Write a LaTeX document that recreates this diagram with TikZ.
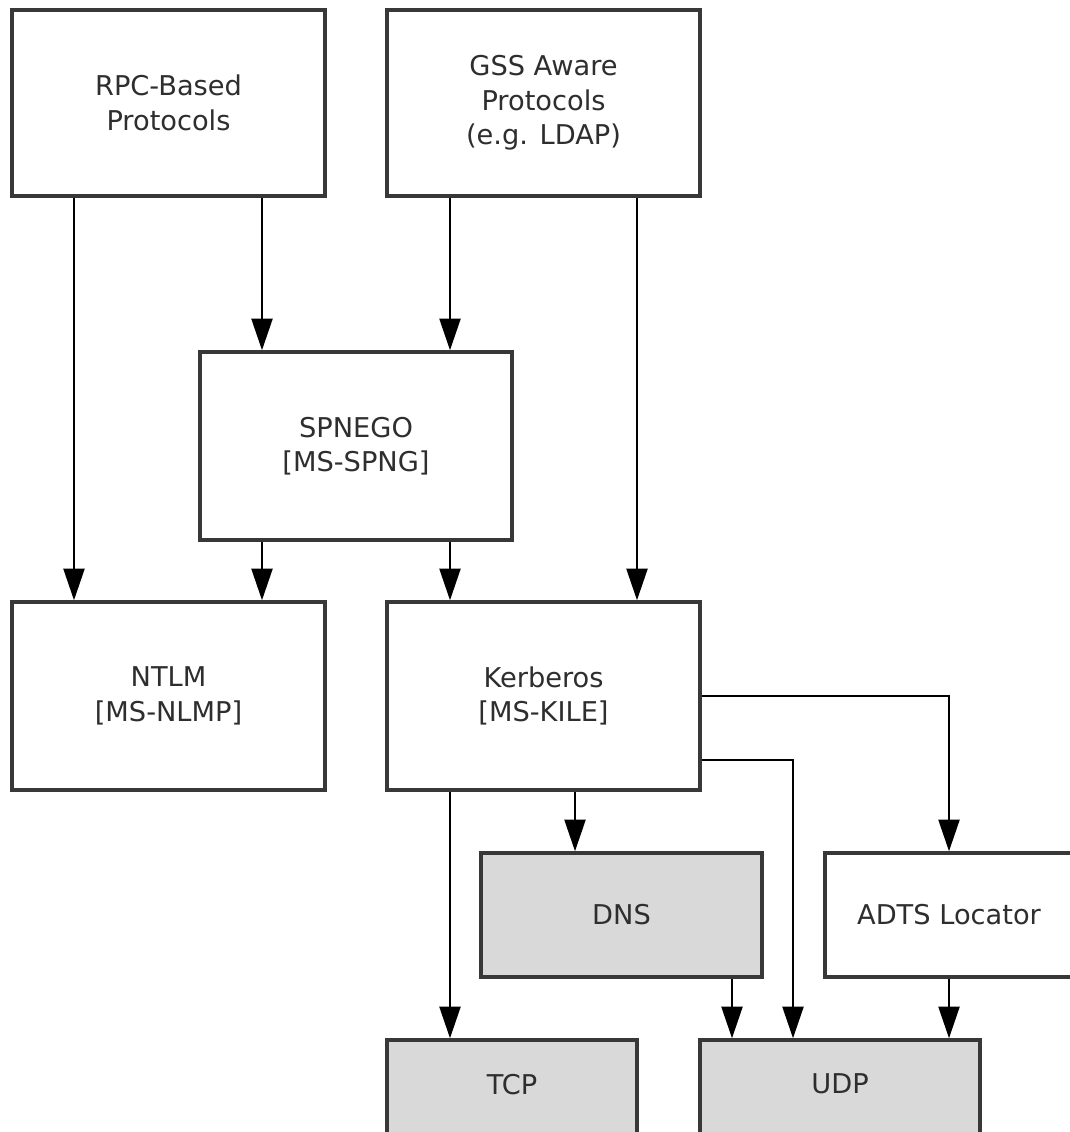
\documentclass[tikz,border=0pt]{standalone}
\usepackage{fontspec}
\setmainfont{DejaVu Sans}
\usetikzlibrary{arrows.meta}
\definecolor{boxLine}{HTML}{383838}
\definecolor{boxText}{HTML}{2E2E2E}
\definecolor{netFill}{HTML}{D9D9D9}

\begin{document}
\begin{tikzpicture}[
  >={Triangle[length=18pt, width=12pt]},
  block/.style={draw=boxLine, fill=white, line width=2pt, text=boxText,
    align=center, inner sep=0pt, font=\fontsize{15.5}{19.6}\selectfont},
  netblock/.style={block, fill=netFill},
  flow/.style={->, line width=1.1pt}
]

\useasboundingbox (0,0) rectangle (21.38,-22.64);

% =========================================================
% PROTOCOL LAYER
% =========================================================

\node[block, minimum width=6.26cm, minimum height=3.72cm]
  (rpc) at (3.37,-2.06) {RPC-Based\\Protocols};

\node[block, minimum width=6.26cm, minimum height=3.72cm]
  (gss) at (10.87,-2.06) {GSS Aware\\Protocols\\(e.g. LDAP)};

\node[block, minimum width=6.24cm, minimum height=3.76cm]
  (spnego) at (7.12,-8.92) {SPNEGO\\{[MS-SPNG]}};

% =========================================================
% AUTHENTICATION LAYER
% =========================================================

\node[block, minimum width=6.26cm, minimum height=3.76cm]
  (ntlm) at (3.37,-13.92) {NTLM\\{[MS-NLMP]}};

\node[block, minimum width=6.26cm, minimum height=3.76cm]
  (kerb) at (10.87,-13.92) {Kerberos\\{[MS-KILE]}};

% =========================================================
% SERVICES AND TRANSPORT
% =========================================================

\node[netblock, minimum width=5.62cm, minimum height=2.48cm]
  (dns) at (12.43,-18.30) {DNS};

\node[block, minimum width=4.96cm, minimum height=2.48cm]
  (adts) at (18.98,-18.30) {ADTS Locator};

\node[netblock, minimum width=5.00cm, minimum height=2.48cm]
  (tcp) at (10.24,-22.04) {\raisebox{0.72cm}{TCP}};

\node[netblock, minimum width=5.60cm, minimum height=2.48cm]
  (udp) at (16.80,-22.04) {\raisebox{0.72cm}{UDP}};

% =========================================================
% FLOWS
% =========================================================

% RPC-based protocols
\draw[flow] ([xshift=-1.89cm]rpc.south) -- ([xshift=-1.89cm]rpc.south |- ntlm.north);
\draw[flow] ([xshift=1.87cm]rpc.south) -- ([xshift=1.87cm]rpc.south |- spnego.north);

% GSS aware protocols
\draw[flow] ([xshift=-1.87cm]gss.south) -- ([xshift=-1.87cm]gss.south |- spnego.north);
\draw[flow] ([xshift=1.87cm]gss.south) -- ([xshift=1.87cm]gss.south |- kerb.north);

% SPNEGO
\draw[flow] ([xshift=-1.88cm]spnego.south) -- ([xshift=-1.88cm]spnego.south |- ntlm.north);
\draw[flow] ([xshift=1.88cm]spnego.south) -- ([xshift=1.88cm]spnego.south |- kerb.north);

% Kerberos
\draw[flow] ([xshift=-1.87cm]kerb.south) -- ([xshift=-1.87cm]kerb.south |- tcp.north);
\draw[flow] ([xshift=0.63cm]kerb.south) -- ([xshift=0.63cm]kerb.south |- dns.north);
\draw[flow] (kerb.east) -| (adts.north);
\draw[flow] ([yshift=-1.28cm]kerb.east) -| ([xshift=-0.94cm]udp.north);

% DNS and locator
\draw[flow] ([xshift=2.21cm]dns.south) -- ([xshift=2.21cm]dns.south |- udp.north);
\draw[flow] (adts.south) -- (adts.south |- udp.north);

\end{tikzpicture}
\end{document}
